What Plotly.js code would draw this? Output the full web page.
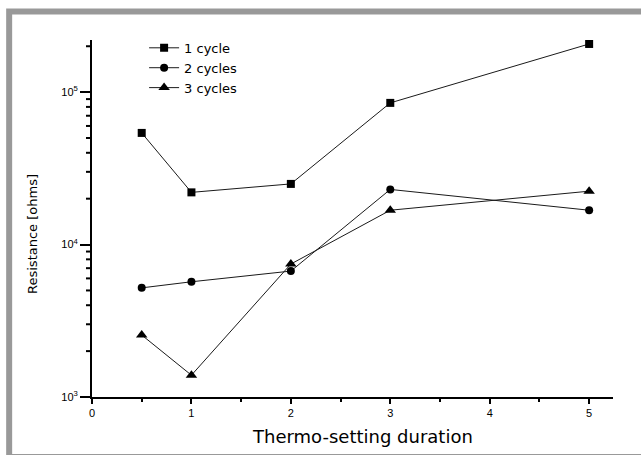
<!DOCTYPE html>
<html>
<head>
<meta charset="utf-8">
<script src="https://cdn.plot.ly/plotly-3.0.1.min.js"></script>
<style>html,body{margin:0;padding:0;background:#fff;}#chart{width:641px;height:455px;}</style>
</head>
<body>
<div id="chart"></div>
<script>
const duration = [0.5, 1, 2, 3, 5];
const cycle1 = [54000, 22000, 25000, 85000, 207000];
const cycle2 = [5200, 5700, 6700, 23000, 16800];
const cycle3 = [2550, 1390, 7450, 16800, 22400];
const seriesNames = ['1 cycle', '2 cycles', '3 cycles'];
const yMajorTicks = [1000, 10000, 100000];
const yMajorLabels = ['10<sup>3</sup>', '10<sup>4</sup>', '10<sup>5</sup>'];
const yMinorTicks = [2000,3000,4000,5000,6000,7000,8000,9000,20000,30000,40000,50000,60000,70000,80000,90000,200000];
const xTitle = 'Thermo-setting duration';
const yTitle = 'Resistance [ohms]';

const xRange = [0, 5.24];
const yRange = [3, 5.342];
const plotW = 641 - 92 - 28;
const xPerPx = (xRange[1] - xRange[0]) / plotW;

const lineStyle = {color: '#1a1a1a', width: 1};
const traces = [
  {x: duration, y: cycle1, name: seriesNames[0], mode: 'lines+markers', line: lineStyle,
   marker: {symbol: 'square', size: 8, color: '#000'}},
  {x: duration, y: cycle2, name: seriesNames[1], mode: 'lines+markers', line: lineStyle,
   marker: {symbol: 'circle', size: 8, color: '#000'}},
  {x: duration, y: cycle3, name: seriesNames[2], mode: 'lines+markers', line: lineStyle,
   marker: {symbol: 'triangle-up', size: 10, color: '#000'}},
  // y-axis minor tick marks, drawn just outside the axis line
  {x: yMinorTicks.map(() => -3 * xPerPx), y: yMinorTicks, mode: 'markers', showlegend: false,
   hoverinfo: 'skip', cliponaxis: false,
   marker: {symbol: 'line-ew', size: 6, color: '#000', line: {color: '#000', width: 2}}}
];

const minorShapes = yMinorTicks.map(v => {
  const yPaper = (Math.log10(v) - yRange[0]) / (yRange[1] - yRange[0]);
  return {type: 'line', xref: 'paper', yref: 'paper', x0: -6 / plotW, x1: 0,
          y0: yPaper, y1: yPaper, line: {color: '#000', width: 2}, layer: 'above'};
});

const layout = {
  width: 641, height: 455,
  margin: {l: 92, r: 28, t: 40, b: 58},
  paper_bgcolor: '#fff', plot_bgcolor: '#fff',
  font: {family: 'Liberation Sans, Arial, sans-serif', color: '#000', size: 11},
  showlegend: true,
  legend: {x: 0.1, y: 1.02, xanchor: 'left', yanchor: 'top', bgcolor: 'rgba(0,0,0,0)',
           font: {family: 'DejaVu Sans, sans-serif', size: 13}, tracegroupgap: 0},
  xaxis: {
    range: xRange, showgrid: false, zeroline: false,
    showline: true, linecolor: '#000', linewidth: 2,
    ticks: 'outside', ticklen: 5, tickwidth: 2, tickcolor: '#000',
    tickmode: 'linear', tick0: 0, dtick: 1,
    minor: {ticks: 'outside', dtick: 0.5, ticklen: 3, tickwidth: 2, tickcolor: '#000', showgrid: false},
    tickfont: {family: 'Liberation Sans, Arial, sans-serif', size: 11}
  },
  yaxis: {
    type: 'log', range: yRange, showgrid: false, zeroline: false,
    showline: true, linecolor: '#000', linewidth: 2,
    ticks: 'outside', ticklen: 10, tickwidth: 2, tickcolor: '#000',
    tickmode: 'array', tickvals: yMajorTicks, ticktext: yMajorLabels,
    tickfont: {family: 'Liberation Sans, Arial, sans-serif', size: 11}
  },
  annotations: [
    {text: yTitle, xref: 'paper', yref: 'paper', x: -0.113, y: 0.457, textangle: -90,
     showarrow: false, xanchor: 'center', yanchor: 'middle',
     font: {family: 'DejaVu Sans, sans-serif', size: 13, color: '#000'}},
    {text: xTitle, xref: 'paper', yref: 'paper', x: 0.52, y: -0.112,
     showarrow: false, xanchor: 'center', yanchor: 'middle',
     font: {family: 'DejaVu Sans, sans-serif', size: 18, color: '#000'}}
  ],
  shapes: [
    {type: 'rect', xref: 'paper', yref: 'paper', x0: -0.159, x1: 1.08, y0: -0.168, y1: 1.0798,
     line: {color: '#999', width: 6}, fillcolor: 'rgba(0,0,0,0)', layer: 'below'}
  ].concat(minorShapes)
};

Plotly.newPlot('chart', traces, layout, {displayModeBar: false, staticPlot: true});
</script>
</body>
</html>
